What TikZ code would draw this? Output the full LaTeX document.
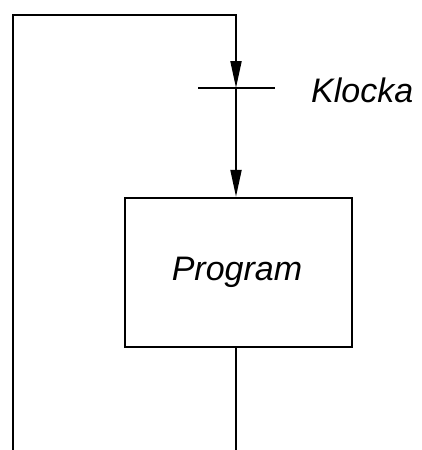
\documentclass[tikz,border=0pt]{standalone}
\usepackage{fontspec}
\setmainfont{Liberation Sans}
\usetikzlibrary{arrows.meta}
\begin{document}
\begin{tikzpicture}[x=1pt,y=-1pt,
  wire/.style={line width=2pt},
  tip/.style={-{Triangle[length=27pt,width=11pt]}},
  lbl/.style={font=\fontsize{34}{38}\selectfont\itshape, inner sep=0pt}]
\useasboundingbox (0,0) rectangle (422,450);
\node[draw, line width=2.4pt, minimum width=227pt, minimum height=149pt, inner sep=0pt] (prog) at (238.5,272.5) {};
\node[lbl] (plabel) at (237,272) {Program};
\coordinate (bl) at (13,450);
\coordinate (tl) at (13,15);
\coordinate (tr) at (236,15);
\coordinate (clk) at (236,88);
\coordinate (tickL) at (198,88);
\coordinate (tickR) at (275,88);
\coordinate (bot) at (236,450);
\node[lbl, anchor=west] (klocka) at (311,90) {Klocka};
\draw[wire, tip, line join=miter] (bl) -- (tl) -- (tr) -- (clk);
\draw[wire] (tickL) -- (tickR);
\draw[wire, tip] (clk) -- (clk |- prog.north);
\draw[wire] (clk |- prog.south) -- (bot);
\end{tikzpicture}
\end{document}
